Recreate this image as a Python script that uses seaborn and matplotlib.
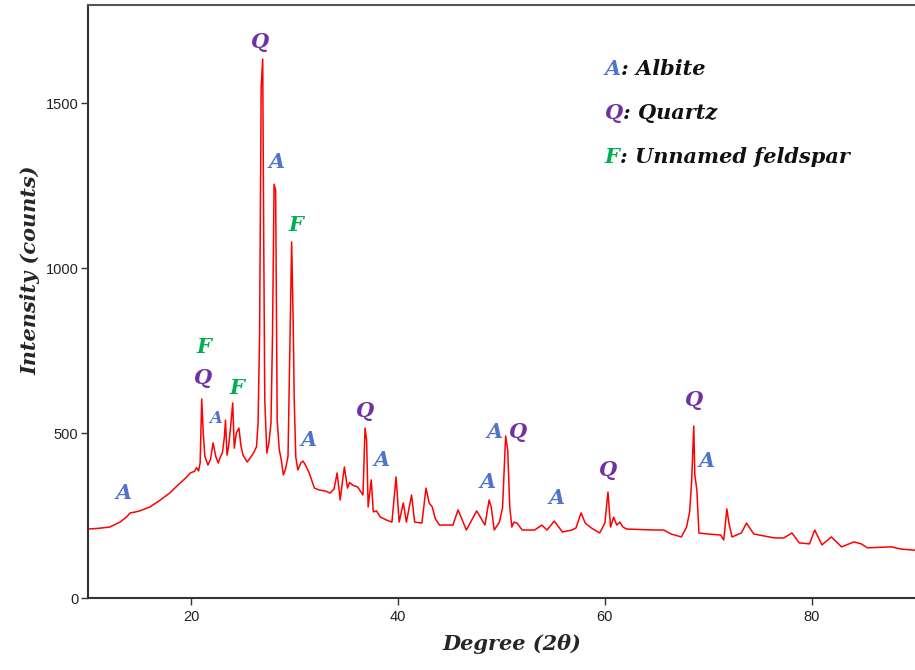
import matplotlib
matplotlib.use("Agg")
import matplotlib.pyplot as plt
import seaborn as sns
import pandas as pd

# XRD pattern (2theta in degrees, counts)
two_theta = [10.0, 11.0, 12.1, 13.1, 13.7, 14.1, 14.5, 15.0, 16.0, 17.0, 17.9, 18.9, 19.5, 19.9,
             20.3, 20.5, 20.7, 20.85, 21.0, 21.15, 21.3, 21.6, 21.85, 22.1, 22.35, 22.6, 22.8, 23.0,
             23.2, 23.3, 23.45, 23.6, 23.8, 24.0, 24.15, 24.35, 24.6, 24.8, 25.0, 25.4, 25.7, 26.0,
             26.3, 26.45, 26.6, 26.75, 26.9, 27.0, 27.1, 27.3, 27.5, 27.7, 27.85, 28.0, 28.15, 28.3,
             28.5, 28.7, 28.9, 29.1, 29.35, 29.55, 29.7, 29.85, 29.95, 30.1, 30.3, 30.6, 30.8, 31.0,
             31.4, 31.9, 32.4, 33.0, 33.4, 33.8, 34.1, 34.4, 34.6, 34.8, 35.1, 35.3, 35.6, 36.1,
             36.6, 36.8, 36.95, 37.1, 37.4, 37.6, 37.9, 38.3, 38.9, 39.4, 39.8, 40.1, 40.5, 40.8,
             41.3, 41.6, 42.3, 42.7, 43.0, 43.3, 43.6, 44.0, 45.3, 45.8, 46.6, 47.6, 48.4, 48.8,
             49.0, 49.3, 49.8, 50.1, 50.4, 50.6, 50.8, 51.0, 51.2, 51.5, 52.0, 53.2, 53.9, 54.4,
             55.1, 55.9, 56.8, 57.2, 57.7, 58.1, 58.7, 59.5, 60.0, 60.3, 60.55, 60.85, 61.15, 61.45,
             61.75, 62.1, 64.8, 65.7, 66.4, 67.4, 67.9, 68.2, 68.4, 68.6, 68.7, 68.9, 69.1, 69.9,
             71.2, 71.5, 71.8, 72.0, 72.3, 73.2, 73.7, 74.4, 76.4, 77.3, 78.1, 78.8, 79.8, 80.3,
             81.0, 81.9, 82.9, 84.1, 84.8, 85.4, 87.7, 88.7, 90.0]
counts = [209, 211, 215, 230, 245, 258, 260, 264, 276, 297, 318, 348, 365, 379,
          384, 395, 385, 410, 603, 500, 430, 403, 420, 470, 430, 409, 427, 440,
          490, 539, 433, 460, 520, 591, 454, 500, 515, 460, 433, 412, 425, 439,
          458, 530, 800, 1545, 1633, 1079, 600, 439, 470, 530, 800, 1254, 1236, 539,
          450, 418, 373, 390, 430, 803, 1079, 833, 600, 427, 388, 410, 415, 405,
          379, 333, 327, 324, 318, 330, 379, 297, 350, 397, 333, 350, 342, 336,
          312, 515, 479, 276, 358, 261, 264, 245, 236, 230, 367, 230, 288, 230,
          312, 230, 227, 333, 288, 276, 240, 221, 221, 267, 206, 264, 221, 297,
          276, 206, 230, 273, 491, 448, 276, 215, 230, 227, 206, 206, 221, 206,
          233, 200, 206, 212, 258, 227, 212, 197, 227, 321, 215, 245, 221, 230,
          215, 209, 206, 206, 194, 185, 215, 261, 358, 521, 373, 327, 197, 194,
          191, 176, 270, 227, 185, 197, 227, 194, 182, 182, 197, 167, 164, 206,
          161, 185, 155, 170, 164, 152, 155, 148, 145]

# peak labels
peak_letters = ["A", "F", "Q", "A", "F", "Q", "A", "F", "A", "Q", "A", "A", "A", "Q", "A", "Q", "Q", "A"]
peak_x = [13.5, 21.2, 21.1, 22.4, 24.4, 26.6, 28.3, 30.1, 31.4, 36.8, 38.4, 48.7, 49.3, 51.6, 55.3, 60.3, 68.6, 69.9]
peak_y = [318, 760, 667, 545, 636, 1685, 1321, 1130, 479, 567, 418, 351, 503, 503, 303, 388, 600, 415]

phase_colors = {"A": "#4f74c9", "Q": "#7030a0", "F": "#00b050"}
legend_names = {"A": "Albite", "Q": "Quartz", "F": "Unnamed feldspar"}

sns.set_style("ticks")
plt.rcParams['font.family'] = ['Liberation Sans', 'DejaVu Sans']

df = pd.DataFrame({"two_theta": two_theta, "counts": counts})

fig = plt.figure(figsize=(9.15, 6.7), dpi=100)
ax = fig.add_axes([88 / 915, 72 / 670, 827 / 915, 593 / 670])

sns.lineplot(data=df, x="two_theta", y="counts", estimator=None, sort=False,
             color="#ff0000", linewidth=1.1, ax=ax)

serif = dict(family=['DejaVu Serif'], weight='bold', style='italic')

for letter, x, y in zip(peak_letters, peak_x, peak_y):
    size = 12 if (letter == "A" and x == 22.4) else 15
    ax.text(x, y, letter, color=phase_colors[letter], fontsize=size,
            ha='center', va='center', **serif)

# legend text block
for i, key in enumerate(["A", "Q", "F"]):
    yy = 0.892 - i * 0.074
    t = ax.text(0.625, yy, key, color=phase_colors[key], fontsize=15,
                transform=ax.transAxes, ha='left', va='center', **serif)
    ax.annotate(": " + legend_names[key], xycoords=t, xy=(1, 0.5), va='center',
                ha='left', fontsize=15, color='#111111', **serif)

ax.set_xlim(10, 90)
ax.set_ylim(0, 1797)
ax.set_xticks([20, 40, 60, 80])
ax.set_yticks([0, 500, 1000, 1500])
ax.tick_params(axis='both', direction='out', length=5, width=1, labelsize=10.5,
               colors='#333333', labelcolor='#222222')
ax.tick_params(axis='y', pad=2)

ax.set_xlabel("Degree (2θ)", fontsize=15, **serif)
ax.set_ylabel("Intensity (counts)", fontsize=15, **serif)
ax.xaxis.set_label_coords(0.513, -0.06)
ax.yaxis.set_label_coords(-0.058, 0.553)

for side in ["left", "bottom", "top"]:
    ax.spines[side].set_color('#333333')
    ax.spines[side].set_linewidth(1.5)
ax.spines["top"].set_color('#555555')
ax.spines["right"].set_visible(False)

fig.savefig("out.png", dpi=100)
